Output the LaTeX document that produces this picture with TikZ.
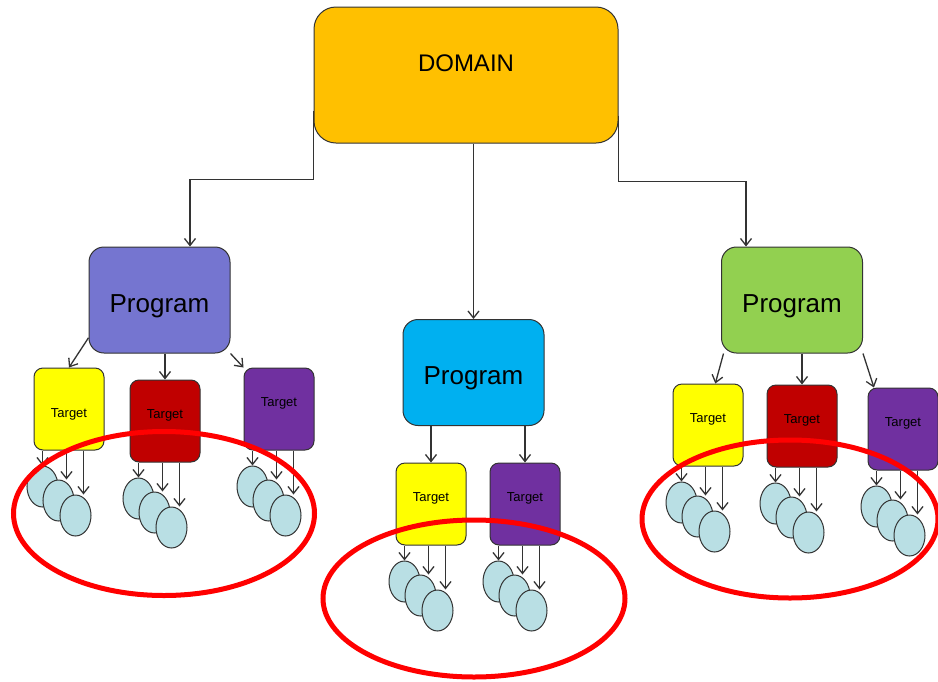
\documentclass[tikz,border=0pt]{standalone}
\usepackage{fontspec}
\setmainfont{Liberation Sans}
\usetikzlibrary{arrows.meta,calc,shapes.geometric}
\definecolor{domainfill}{HTML}{FFC000}
\definecolor{progblue}{RGB}{117,117,208}
\definecolor{progcyan}{HTML}{00B0F0}
\definecolor{proggreen}{HTML}{92D050}
\definecolor{tgtyellow}{HTML}{FFFF00}
\definecolor{tgtred}{HTML}{C00000}
\definecolor{tgtpurple}{HTML}{7030A0}
\definecolor{leaffill}{HTML}{B9DFE4}
\definecolor{ringred}{HTML}{FF0000}
\tikzset{
	rootbox/.style={draw=black!80, line width=1pt, fill=domainfill, rounded corners=22pt, minimum width=304pt, minimum height=136pt, font=\fontsize{24}{28}\selectfont, text height=17pt, text depth=25pt},
	progbox/.style={draw=black!80, line width=1pt, rounded corners=15pt, minimum width=141pt, minimum height=106pt, font=\fontsize{26}{30}\selectfont, text height=24pt, text depth=0pt},
	tgtbox/.style={draw=black!80, line width=1pt, rounded corners=9pt, minimum width=70pt, minimum height=82pt, font=\fontsize{13}{15}\selectfont, text height=10pt, text depth=15pt},
	leaf/.style={draw=black!80, line width=1pt, ellipse, fill=leaffill, minimum width=31pt, minimum height=41pt, inner sep=0pt},
	flow/.style={-{Straight Barb[length=7pt,width=11pt]}, line width=1.3pt, draw=black!80},
	ring/.style={draw=ringred, line width=5pt}
}
% three overlapping leaves under a target, each with its own arrow
\newcommand{\leafset}[1]{%
	\node[leaf] (#1-1) at ($(#1.south west)+(9,36)$) {};
	\node[leaf] (#1-2) at ($(#1.south west)+(25,50)$) {};
	\node[leaf] (#1-3) at ($(#1.south west)+(42,65)$) {};
	\coordinate (#1-a2) at ($(#1-2.north)+(8,0)$);
	\coordinate (#1-a3) at ($(#1-3.north)+(8,0)$);
	\draw[flow] (#1.south -| #1-1.north) -- (#1-1.north);
	\draw[flow] (#1.south -| #1-a2) -- (#1-a2);
	\draw[flow] (#1.south -| #1-a3) -- (#1-a3);
}
\begin{document}
\begin{tikzpicture}[x=1pt, y=-1pt]
	\path[fill=white, use as bounding box] (0,0) rectangle (938,681);
	\node[rootbox] (dom) at (466,75) {DOMAIN};
	\node[progbox, fill=progblue] (pl) at (159.5,300) {Program};
	\node[progbox, fill=progcyan] (pm) at (473.5,372.5) {Program};
	\node[progbox, fill=proggreen] (pr) at (792,300) {Program};
	\draw[flow] ($(dom.south west)+(0,-33)$) -- ($(dom.south west)+(0,36)$) -| ($(pl.north)+(30.5,0)$);
	\draw[flow] (pm.north |- dom.south) -- (pm.north);
	\draw[flow] ($(dom.south east)+(0,-28)$) -- ($(dom.south east)+(0,38)$) -| ($(pr.north)+(-46,0)$);
	% targets of each program
	\node[tgtbox, fill=tgtyellow, text height=22pt, text depth=5pt] (tly) at (69,409) {Target};
	\node[tgtbox, fill=tgtred] (tlr) at (165,421) {Target};
	\node[tgtbox, fill=tgtpurple] (tlp) at (279,409) {Target};
	\node[tgtbox, fill=tgtyellow] (tmy) at (431,504) {Target};
	\node[tgtbox, fill=tgtpurple] (tmp) at (525,504) {Target};
	\node[tgtbox, fill=tgtyellow] (try) at (708,425) {Target};
	\node[tgtbox, fill=tgtred] (trr) at (802,426) {Target};
	\node[tgtbox, fill=tgtpurple] (trp) at (903,429) {Target};
	\draw[flow] (pl.208) -- (tly.north);
	\draw[flow] (tlr.north |- pl.south) -- (tlr.north);
	\draw[flow] (pl.323) -- (tlp.north west);
	\draw[flow] (tmy.north |- pm.south) -- (tmy.north);
	\draw[flow] (tmp.north |- pm.south) -- (tmp.north);
	\draw[flow] (pr.218) -- (try.80);
	\draw[flow] (trr.north |- pr.south) -- (trr.north);
	\draw[flow] (pr.323) -- (trp.125);
	\leafset{tly} \leafset{tlr} \leafset{tlp}
	\leafset{tmy} \leafset{tmp}
	\leafset{try} \leafset{trr} \leafset{trp}
	% red rings round the leaves
	\draw[ring] (164,513.5) ellipse [x radius=150.5, y radius=82];
	\draw[ring] (474,598.5) ellipse [x radius=151, y radius=78.5];
	\draw[ring] (790,519) ellipse [x radius=148, y radius=79];
\end{tikzpicture}
\end{document}
